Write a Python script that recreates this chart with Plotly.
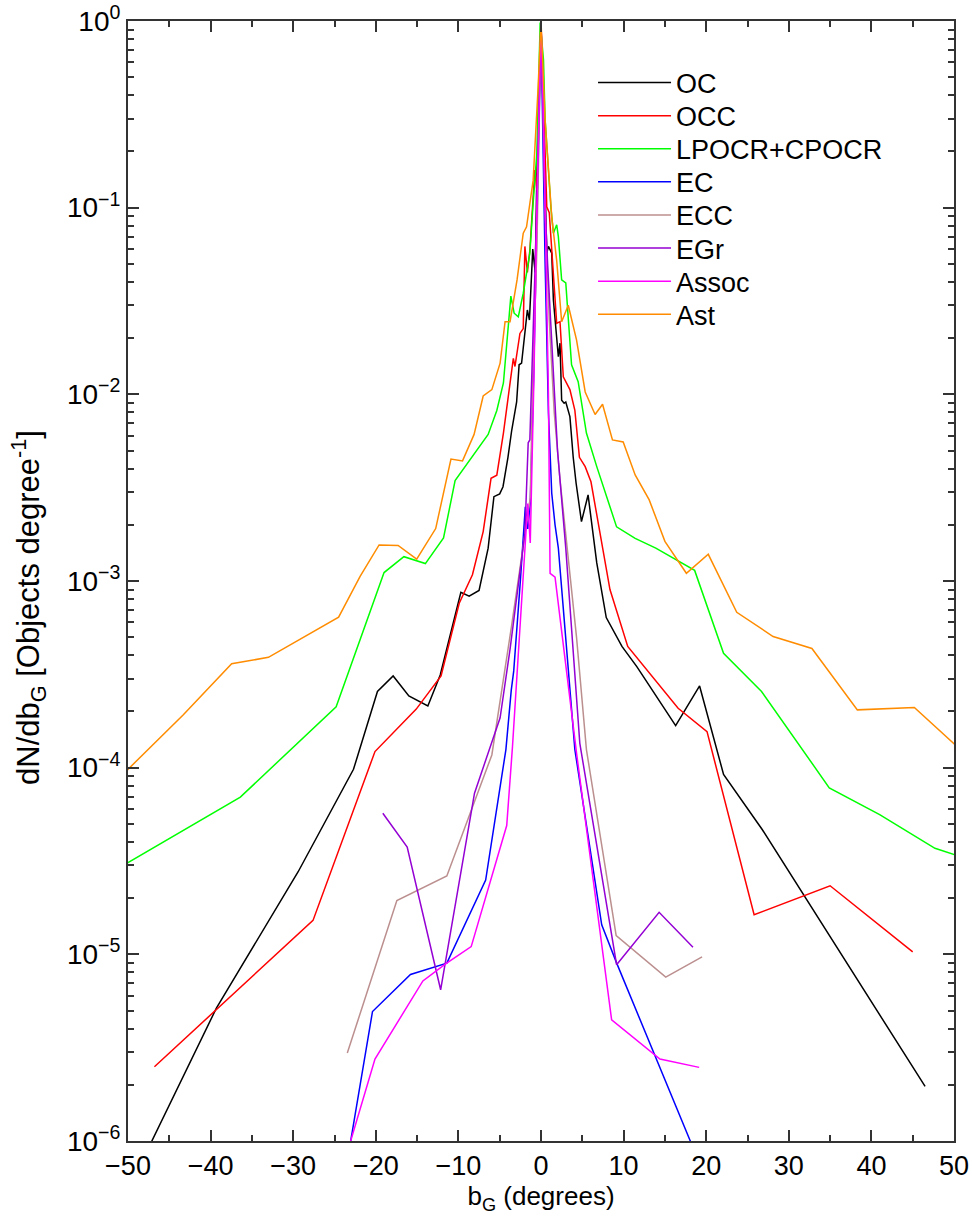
import plotly.graph_objects as go

# ---- data ----
oc_x = [-48, -39.3, -29.4, -22.7, -19.8, -17.9, -16.0, -13.7, -12.2, -9.7, -8.7, -7.5, -6.4, -5.7, -5.0,
        -4.6, -4.0, -3.55, -2.95, -2.65, -2.35, -1.95, -1.65, -1.4, -1.0, -0.7, -0.5, 0.0, 0.5, 0.7, 0.9,
        1.3, 1.5, 1.7, 2.1, 2.3, 2.5, 2.8, 3.0, 3.5, 3.9, 4.25, 4.9, 5.7, 6.75, 7.9, 9.8, 11.6, 16.3,
        19.2, 22.1, 26.8, 46.5]
oc_y = [8.3e-7, 5.15e-6, 2.77e-5, 9.8e-5, 2.56e-4, 3.1e-4, 2.42e-4, 2.14e-4, 3.14e-4, 8.7e-4, 8.3e-4,
        8.9e-4, 1.5e-3, 2.83e-3, 2.93e-3, 3.2e-3, 4.6e-3, 6.4e-3, 9.1e-3, 1.44e-2, 1.47e-2, 2.12e-2,
        2.83e-2, 2.5e-2, 0.06, 0.045, 0.15, 0.95, 0.119, 0.057, 0.062, 0.057, 0.032, 0.025, 0.0159,
        0.0188, 9.3e-3, 8.96e-3, 9.1e-3, 7.6e-3, 4.6e-3, 3.34e-3, 2.08e-3, 2.89e-3, 1.25e-3, 6.37e-4,
        4.46e-4, 3.48e-4, 1.68e-4, 2.74e-4, 9.2e-5, 4.65e-5, 1.96e-6]

occ_x = [-46.8, -27.6, -20.1, -15.1, -12.1, -9.9, -8.3, -7.0, -6.05, -5.35, -4.55, -3.95, -3.35, -3.15,
         -2.55, -2.15, -1.95, -1.65, -1.35, -0.75, -0.5, -0.3, 0.0, 0.5, 0.7, 1.0, 1.3, 1.55, 1.9, 2.3,
         2.7, 3.5, 4.1, 4.65, 5.35, 6.05, 8.35, 10.5, 16.6, 20.1, 25.8, 35.0, 45.0]
occ_y = [2.5e-6, 1.52e-5, 1.22e-4, 2.06e-4, 3.1e-4, 7.6e-4, 1.08e-3, 1.84e-3, 3.55e-3, 3.69e-3, 6.2e-3,
         1.01e-2, 1.56e-2, 1.41e-2, 2.12e-2, 2.25e-2, 0.062, 0.045, 0.059, 0.159, 0.124, 0.295, 0.97,
         0.196, 0.101, 0.094, 0.057, 0.038, 0.024, 0.0245, 0.0124, 0.0106, 8.2e-3, 4.6e-3, 4.1e-3,
         3.4e-3, 9.0e-4, 4.46e-4, 2.08e-4, 1.56e-4, 1.63e-5, 2.33e-5, 1.03e-5]

lpocr_x = [-50.1, -36.4, -24.8, -19.0, -16.6, -14.0, -11.8, -10.4, -6.4, -5.35, -4.55, -4.15, -3.65,
           -3.25, -2.75, -2.15, -1.35, -0.95, -0.5, -0.1, 0.3, 0.5, 0.9, 1.2, 1.5, 1.9, 2.1, 2.5, 3.0,
           3.3, 3.7, 4.5, 5.5, 6.75, 7.95, 9.15, 11.4, 13.9, 18.6, 22.1, 26.7, 34.9, 41.0, 47.7, 50.2]
lpocr_y = [3.08e-5, 6.95e-5, 2.12e-4, 1.11e-3, 1.35e-3, 1.24e-3, 1.7e-3, 3.45e-3, 6.1e-3, 8.2e-3,
           1.15e-2, 1.88e-2, 3.36e-2, 2.72e-2, 2.6e-2, 3.48e-2, 5.7e-2, 0.106, 0.196, 0.98, 0.62, 0.295,
           0.153, 0.10, 0.073, 0.081, 0.070, 0.041, 0.0395, 0.025, 0.0144, 0.0117, 6.2e-3, 4.1e-3,
           2.83e-3, 1.95e-3, 1.69e-3, 1.5e-3, 1.14e-3, 4.1e-4, 2.56e-4, 7.8e-5, 5.6e-5, 3.7e-5, 3.4e-5]

ec_x = [-23.45, -20.4, -15.8, -11.4, -6.7, -4.25, -3.6, -3.3, -2.5, -1.9, -1.6, -1.3, -0.9, -0.5, 0.0,
        0.5, 0.9, 1.3, 1.7, 2.1, 2.5, 3.1, 4.1, 7.35, 9.15, 18.5]
ec_y = [7.8e-7, 4.94e-6, 7.8e-6, 8.97e-6, 2.5e-5, 1.25e-4, 2.6e-4, 3.3e-4, 1.0e-3, 2.5e-3, 1.9e-3,
        2.6e-3, 0.012, 0.07, 0.9, 0.05, 0.008, 2.95e-3, 2.0e-3, 1.5e-3, 9.3e-4, 4.3e-4, 1.25e-4,
        1.44e-5, 9.0e-6, 9e-7]

ecc_x = [-23.45, -17.45, -11.4, -5.95, -3.5, -2.2, -1.3, -1.0, -0.5, 0.0, 0.5, 1.0, 1.6, 2.3, 3.2,
         4.3, 5.5, 9.1, 15.1, 19.5]
ecc_y = [2.96e-6, 1.94e-5, 2.63e-5, 1.17e-4, 6e-4, 1.5e-3, 2.8e-3, 0.012, 0.06, 0.9, 0.1, 0.025,
         8e-3, 3.5e-3, 1.5e-3, 5e-4, 1.25e-4, 1.26e-5, 7.55e-6, 9.7e-6]

egr_x = [-19.15, -16.2, -12.15, -8.05, -4.95, -3.75, -1.95, -1.55, -1.35, -1.15, -0.95, -0.5, 0.0,
         0.5, 0.8, 1.1, 1.5, 2.0, 3.0, 4.7, 9.15, 14.3, 18.4]
egr_y = [5.7e-5, 3.75e-5, 6.46e-6, 7.3e-5, 1.85e-4, 4.3e-4, 1.8e-3, 5.5e-3, 5.7e-3, 1.15e-2, 2.1e-2,
         0.1, 1.0, 0.1, 0.05, 0.028, 0.012, 5e-3, 1.5e-3, 1.35e-4, 8.8e-6, 1.68e-5, 1.09e-5]

assoc_x = [-23.45, -20.1, -14.3, -11.55, -8.45, -4.15, -3.45, -2.5, -1.6, -1.3, -1.1, -0.85, -0.5, 0.0,
           0.3, 0.6, 0.9, 1.1, 1.7, 4.3, 8.55, 14.4, 19.15]
assoc_y = [8.7e-7, 2.75e-6, 7.2e-6, 8.9e-6, 1.1e-5, 4.9e-5, 1.3e-4, 6e-4, 2.6e-3, 1.6e-3, 4e-3,
           0.0126, 0.1, 1.0, 0.3, 0.05, 0.01, 1.1e-3, 1.05e-3, 1.2e-4, 4.46e-6, 2.75e-6, 2.48e-6]

ast_x = [-50.1, -43.3, -37.45, -33.0, -24.5, -21.9, -19.6, -17.3, -15.05, -12.75, -10.9, -9.5, -8.1,
         -7.0, -5.95, -4.95, -4.35, -3.75, -2.9, -2.15, -1.75, -0.95, -0.35, 0.0, 0.5, 0.9, 1.3, 1.9,
         2.5, 3.3, 4.3, 5.35, 6.55, 7.45, 8.65, 9.95, 11.4, 13.1, 15.0, 17.6, 20.25, 23.7, 28.1, 32.8,
         38.3, 45.2, 50.2]
ast_y = [9.7e-5, 1.92e-4, 3.6e-4, 3.9e-4, 6.4e-4, 1.06e-3, 1.56e-3, 1.55e-3, 1.31e-3, 1.91e-3, 4.5e-3,
         4.4e-3, 6.1e-3, 9.8e-3, 1.06e-2, 1.47e-2, 2.45e-2, 2.45e-2, 4.1e-2, 7.3e-2, 7.9e-2, 0.14, 0.44,
         1.0, 0.295, 0.153, 0.089, 0.052, 0.0245, 0.030, 0.0196, 0.0103, 7.8e-3, 8.85e-3, 5.7e-3,
         5.56e-3, 3.7e-3, 2.72e-3, 1.63e-3, 1.10e-3, 1.39e-3, 6.8e-4, 5.04e-4, 4.35e-4, 2.04e-4,
         2.10e-4, 1.32e-4]

names = ["OC", "OCC", "LPOCR+CPOCR", "EC", "ECC", "EGr", "Assoc", "Ast"]
xs_all = [oc_x, occ_x, lpocr_x, ec_x, ecc_x, egr_x, assoc_x, ast_x]
ys_all = [oc_y, occ_y, lpocr_y, ec_y, ecc_y, egr_y, assoc_y, ast_y]
colors = ["#000000", "#ff0000", "#00ff00", "#0000ff", "#bc8f8f", "#9400d3", "#ff00ff", "#ff8c00"]

y_tickvals = [1e-6, 1e-5, 1e-4, 1e-3, 1e-2, 1e-1, 1]
y_ticktext = ["10<sup>−6</sup>", "10<sup>−5</sup>", "10<sup>−4</sup>", "10<sup>−3</sup>",
              "10<sup>−2</sup>", "10<sup>−1</sup>", "10<sup>0</sup>"]
x_tickvals = [-50, -40, -30, -20, -10, 0, 10, 20, 30, 40, 50]
x_ticktext = ["−50", "−40", "−30", "−20", "−10", "0", "10", "20", "30", "40", "50"]

# layout geometry (pixels)
W, H = 972, 1218
ML, MR, MT, MB = 128, 18, 21, 77
plot_h = H - MT - MB
plot_w = W - ML - MR

fig = go.Figure()
legends = {}
for i, (name, xs, ys, col) in enumerate(zip(names, xs_all, ys_all, colors)):
    key = "legend" if i == 0 else f"legend{i + 1}"
    fig.add_trace(go.Scatter(x=xs, y=ys, mode="lines", name=name,
                             line=dict(color=col, width=1.5), legend=key))
    center_px = 83 + 33.1 * i
    legends[key] = dict(x=0.563, y=(H - MB - center_px) / plot_h, xanchor="left", yanchor="middle",
                        bgcolor="rgba(0,0,0,0)", borderwidth=0, itemwidth=73,
                        font=dict(size=27))

minor_y = [m * 10 ** e for e in range(-6, 0) for m in range(2, 10)]

fig.update_layout(
    width=W, height=H,
    margin=dict(l=ML, r=MR, t=MT, b=MB),
    paper_bgcolor="white", plot_bgcolor="white",
    font=dict(family="Liberation Sans, Arial, sans-serif", size=25, color="black"),
    showlegend=True,
    **legends,
    annotations=[dict(
        text="dN/db<sub>G</sub> [Objects degree<sup>-1</sup>]",
        xref="paper", yref="paper", x=(28 - ML) / plot_w, y=(H - MB - 608) / plot_h,
        xanchor="center", yanchor="middle", textangle=-90, showarrow=False,
        font=dict(size=31),
    )],
)
fig.update_xaxes(
    range=[-50, 50], tickmode="array", tickvals=x_tickvals, ticktext=x_ticktext,
    automargin=False, tickfont=dict(size=27),
    ticks="inside", ticklen=11, tickwidth=1.5, tickcolor="#333",
    showline=True, linecolor="#333", linewidth=2, mirror="ticks",
    showgrid=False, zeroline=False,
    minor=dict(tickmode="array", tickvals=[-45, -35, -25, -15, -5, 5, 15, 25, 35, 45],
               ticks="inside", ticklen=6, tickwidth=1.5, tickcolor="#333", showgrid=False),
    title=dict(text="b<sub>G</sub> (degrees)", font=dict(size=26), standoff=6),
)
fig.update_yaxes(
    type="log", range=[-6, 0], tickmode="array", tickvals=y_tickvals, ticktext=y_ticktext,
    automargin=False, tickfont=dict(size=28),
    ticks="inside", ticklen=11, tickwidth=1.5, tickcolor="#333",
    showline=True, linecolor="#333", linewidth=2, mirror="ticks",
    showgrid=False, zeroline=False,
    minor=dict(tickmode="array", tickvals=minor_y, ticks="inside", ticklen=6,
               tickwidth=1.5, tickcolor="#333", showgrid=False),
)

fig.write_html("out.html")
